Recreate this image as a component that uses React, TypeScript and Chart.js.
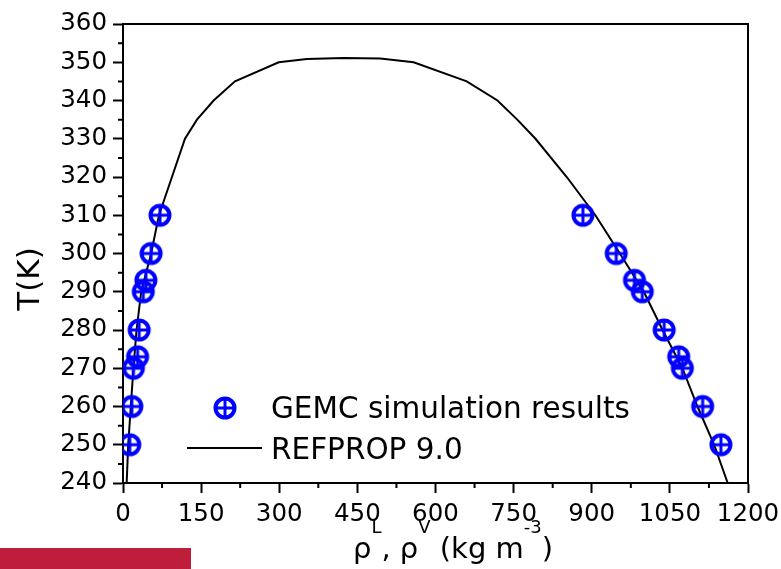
import React, { useEffect, useRef } from "react";
import { Chart, registerables } from "chart.js";

Chart.register(...registerables);

// ---- Data ----
const seriesNames = ["GEMC simulation results", "REFPROP 9.0"];

const gemcT = [250, 260, 270, 273, 280, 290, 293, 300, 310];
const gemcRhoVapor = [13, 17, 20, 28, 31, 39, 44, 54, 71];
const gemcRhoLiquid = [1148, 1113, 1074, 1067, 1039, 997, 982, 947, 883];

const refT = [
  240, 250, 260, 270, 280, 290, 300, 310, 320, 330, 335, 340, 345, 350, 350.85, 351.1,
  351.0, 350, 345, 340, 335, 330, 320, 310, 300, 290, 280, 270, 260, 250, 240,
];
const refRho = [
  7, 10, 15, 20, 26, 35, 54, 69, 94, 119, 142, 174, 215, 299, 353, 424,
  494, 558, 660, 719, 757, 792, 852, 907, 954, 1000, 1036, 1074, 1103, 1135, 1161,
];

const xMin = 0;
const xMax = 1200;
const xStep = 150;
const xMinorTicks = [75, 225, 375, 525, 675, 825, 975, 1125];
const yMin = 240;
const yMax = 360;
const yStep = 10;
const yMinorTicks = [245, 255, 265, 275, 285, 295, 305, 315, 325, 335, 345, 355];

const yTitle = "T(K)";
const xTitleParts = [
  { t: "ρ", sup: false },
  { t: "L", sup: true },
  { t: ", ρ", sup: false },
  { t: "V", sup: true },
  { t: " (kg m", sup: false },
  { t: "-3", sup: true },
  { t: ")", sup: false },
];

const FONT = '"DejaVu Sans", "Liberation Sans", sans-serif';
const BLUE = "#0000FF";

function makeMarker(): HTMLCanvasElement {
  const c = document.createElement("canvas");
  c.width = 28;
  c.height = 28;
  const g = c.getContext("2d")!;
  g.strokeStyle = BLUE;
  g.lineWidth = 4;
  g.beginPath();
  g.arc(14, 14, 9.5, 0, Math.PI * 2);
  g.stroke();
  g.lineWidth = 3;
  g.beginPath();
  g.moveTo(4.5, 14);
  g.lineTo(23.5, 14);
  g.moveTo(14, 4.5);
  g.lineTo(14, 23.5);
  g.stroke();
  return c;
}

export default function App() {
  const ref = useRef<HTMLCanvasElement | null>(null);

  useEffect(() => {
    document.body.style.margin = "0";
    const canvas = ref.current!;
    const marker = makeMarker();

    const gemcPoints = [
      ...gemcT.map((t, i) => ({ x: gemcRhoVapor[i], y: t })),
      ...gemcT.map((t, i) => ({ x: gemcRhoLiquid[i], y: t })),
    ];
    const refPoints = refT.map((t, i) => ({ x: refRho[i], y: t }));

    const decor = {
      id: "decor",
      afterDraw(chart: any) {
        const { ctx, chartArea, scales } = chart;
        const { left, right, top, bottom } = chartArea;
        const xs = scales.x;
        const ys = scales.y;
        ctx.save();
        ctx.strokeStyle = "#000";
        ctx.lineWidth = 2;
        // frame top & right
        ctx.beginPath();
        ctx.moveTo(left - 1, top);
        ctx.lineTo(right, top);
        ctx.lineTo(right, bottom + 1);
        ctx.stroke();
        // minor ticks
        ctx.beginPath();
        xMinorTicks.forEach((v) => {
          const px = xs.getPixelForValue(v);
          ctx.moveTo(px, bottom);
          ctx.lineTo(px, bottom + 5);
        });
        yMinorTicks.forEach((v) => {
          const py = ys.getPixelForValue(v);
          ctx.moveTo(left, py);
          ctx.lineTo(left - 5, py);
        });
        ctx.stroke();

        ctx.fillStyle = "#000";
        // y title
        ctx.save();
        ctx.translate(39, 279);
        ctx.rotate(-Math.PI / 2);
        ctx.font = `31px ${FONT}`;
        ctx.textAlign = "center";
        ctx.textBaseline = "alphabetic";
        ctx.fillText(yTitle, 0, 0);
        ctx.restore();

        // x title with superscripts
        const mainFont = `29px ${FONT}`;
        const supFont = `18px ${FONT}`;
        let total = 0;
        xTitleParts.forEach((p) => {
          ctx.font = p.sup ? supFont : mainFont;
          total += ctx.measureText(p.t).width;
        });
        let cx = 453 - total / 2;
        ctx.textAlign = "left";
        ctx.textBaseline = "alphabetic";
        xTitleParts.forEach((p) => {
          ctx.font = p.sup ? supFont : mainFont;
          ctx.fillText(p.t, cx, p.sup ? 533 : 558);
          cx += ctx.measureText(p.t).width;
        });

        // legend
        ctx.drawImage(marker, 225 - 14, 408 - 14);
        ctx.font = `29.5px ${FONT}`;
        ctx.fillText(seriesNames[0], 271, 418);
        ctx.beginPath();
        ctx.lineWidth = 2;
        ctx.moveTo(187, 448);
        ctx.lineTo(262, 448);
        ctx.stroke();
        ctx.fillText(seriesNames[1], 271, 459);
        ctx.restore();
      },
    };

    const tickFont = { family: FONT, size: 24.5 };
    const gridOpts = {
      display: true,
      drawOnChartArea: false,
      drawTicks: true,
      tickLength: 10,
      tickWidth: 2,
      tickColor: "#000",
      color: "#000",
    };
    const plain = (v: any) => String(v);

    const chart = new Chart(canvas, {
      type: "scatter",
      data: {
        datasets: [
          {
            label: seriesNames[0],
            data: gemcPoints,
            pointStyle: marker as any,
            pointRadius: 12,
            pointHoverRadius: 12,
            showLine: false,
            order: 0,
          },
          {
            label: seriesNames[1],
            data: refPoints,
            showLine: true,
            borderColor: "#000",
            borderWidth: 2,
            pointRadius: 0,
            pointHoverRadius: 0,
            tension: 0,
            fill: false,
            order: 1,
          },
        ],
      },
      options: {
        animation: false,
        responsive: false,
        devicePixelRatio: 1,
        events: [],
        layout: { padding: { top: 24, right: 33, left: 0, bottom: 0 } },
        plugins: {
          legend: { display: false },
          tooltip: { enabled: false },
          title: { display: false },
        },
        scales: {
          x: {
            type: "linear",
            min: xMin,
            max: xMax,
            ticks: { stepSize: xStep, color: "#000", font: tickFont, padding: 7, maxRotation: 0, autoSkip: false, callback: plain },
            grid: gridOpts,
            border: { display: true, color: "#000", width: 2 },
            afterFit: (s: any) => {
              s.height = 86;
              s.paddingLeft = 0;
              s.paddingRight = 0;
            },
          },
          y: {
            type: "linear",
            min: yMin,
            max: yMax,
            ticks: { stepSize: yStep, color: "#000", font: tickFont, padding: 6, autoSkip: false, callback: plain },
            grid: gridOpts,
            border: { display: true, color: "#000", width: 2 },
            afterFit: (s: any) => {
              s.width = 123;
              s.paddingTop = 0;
              s.paddingBottom = 0;
            },
          },
        },
      },
      plugins: [decor],
    } as any);

    return () => chart.destroy();
  }, []);

  return (
    <div style={{ position: "absolute", left: 0, top: 0, width: 781, height: 569, background: "#fff" }}>
      <canvas ref={ref} width={781} height={569} style={{ display: "block", width: 781, height: 569 }} />
      <div
        style={{
          position: "absolute",
          left: 0,
          top: 548,
          width: 191,
          height: 21,
          background: "#BE1E3C",
        }}
      />
    </div>
  );
}
